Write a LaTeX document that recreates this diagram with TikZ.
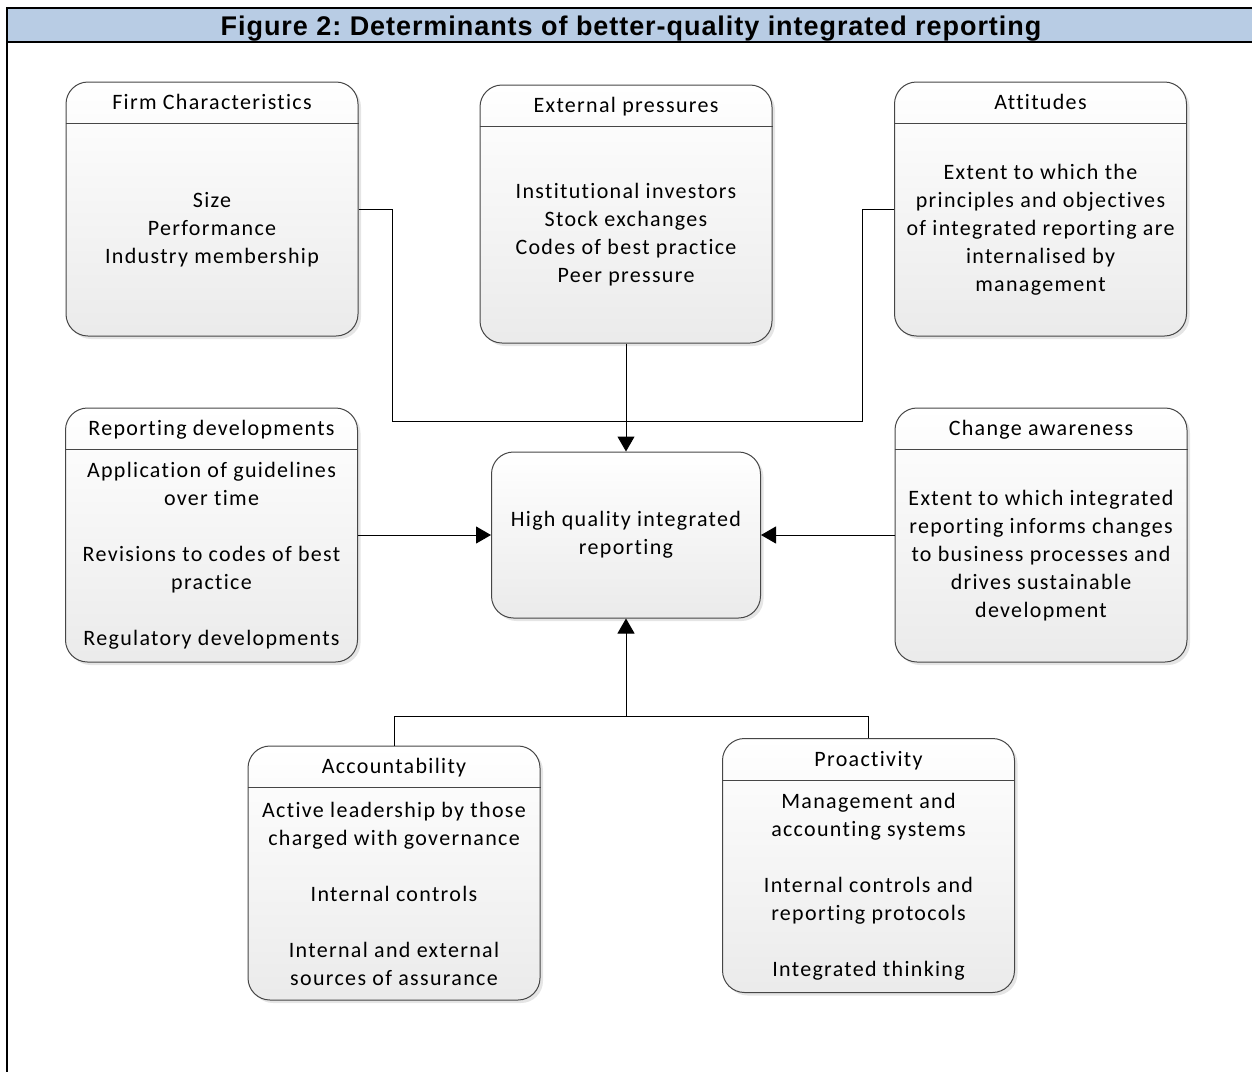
\documentclass[tikz,border=0pt]{standalone}
\usepackage{fontspec}
\setmainfont{Carlito}[LetterSpace=6, Ligatures=NoCommon]
\newfontfamily\headfont{Liberation Sans}[LetterSpace=3.5]
\usetikzlibrary{arrows.meta, shadows}
\definecolor{headblue}{RGB}{184,204,228}
\definecolor{boxline}{RGB}{70,70,70}
\frenchspacing

\begin{document}
\begin{tikzpicture}[x=1pt, y=-1pt,
    box/.style={draw=boxline, line width=1pt, rounded corners=22pt,
      top color=white, bottom color=black!8,
      drop shadow={shadow xshift=3pt, shadow yshift=-3pt, fill=black!20, opacity=0.5},
      minimum width=292pt, minimum height=254pt, inner sep=0pt},
    boxtitle/.style={font=\fontsize{22}{28}\selectfont, text height=14pt, text depth=0pt, inner sep=0pt},
    boxtext/.style={font=\fontsize{22}{28}\selectfont, align=center, inner sep=0pt},
    rule/.style={draw=boxline, line width=1pt},
    link/.style={line width=1pt},
    feed/.style={link, -{Triangle[length=15pt, width=17pt]}}]
  \useasboundingbox (0,0) rectangle (1252,1072);

  % heading band
  \fill[headblue] (7,8) rectangle (1252,42);
  \draw[line width=2.5pt] (1252,8) -- (7,8) -- (7,1072);
  \draw[line width=2.5pt] (7,42) -- (1252,42);
  \node[font=\headfont\bfseries\fontsize{27}{30}\selectfont, anchor=base] (heading)
    at (631,35.5) {Figure 2: Determinants of better-quality integrated reporting};

  \node[box] (firm) at (212,209) {};
  \node[box, minimum height=258pt] (ext) at (626,214) {};
  \node[box] (att) at (1040.5,209) {};
  \node[box] (rep) at (211.5,535) {};
  \node[box] (chg) at (1041,535) {};
  \node[box, boxtext, minimum width=269pt, minimum height=166pt] (high)
    at (626,535) {High quality integrated\\reporting};
  \node[box] (acc) at (394,873) {};
  \node[box] (pro) at (868.5,865.5) {};

  \foreach \b/\t in {firm/Firm Characteristics, ext/External pressures,
      att/Attitudes, rep/Reporting developments, chg/Change awareness,
      acc/Accountability, pro/Proactivity}{
    \draw[rule] ([yshift=-42pt]\b.north west) -- ([yshift=-42pt]\b.north east);
    \node[boxtitle] (\b-title) at ([yshift=-21pt]\b.north) {\t};
  };

  \node[boxtext] (firm-text) at ([yshift=-21pt]firm.center)
    {Size\\Performance\\Industry membership};
  \node[boxtext] (ext-text) at ([yshift=-21pt]ext.center)
    {Institutional investors\\Stock exchanges\\Codes of best practice\\Peer pressure};
  \node[boxtext] (att-text) at ([yshift=-21pt]att.center)
    {Extent to which the\\principles and objectives\\of integrated reporting are\\internalised by\\management};
  \node[boxtext] (rep-text) at ([yshift=-21pt]rep.center)
    {Application of guidelines\\over time\\[28pt]Revisions to codes of best\\practice\\[28pt]Regulatory developments};
  \node[boxtext] (chg-text) at ([yshift=-21pt]chg.center)
    {Extent to which integrated\\reporting informs changes\\to business processes and\\drives sustainable\\development};
  \node[boxtext] (acc-text) at ([yshift=-21pt]acc.center)
    {Active leadership by those\\charged with governance\\[28pt]Internal controls\\[28pt]Internal and external\\sources of assurance};
  \node[boxtext] (pro-text) at ([yshift=-21pt]pro.center)
    {Management and\\accounting systems\\[28pt]Internal controls and\\reporting protocols\\[28pt]Integrated thinking};

  \coordinate (lbend) at (392,421);
  \coordinate (rbend) at (862,421);
  \coordinate (bjoin) at (626,716);
  \draw[link] (firm.east) -| (lbend) -- (rbend) |- (att.west);
  \draw[feed] (ext.south) -- (high.north);
  \draw[feed] (rep.east) -- (high.west);
  \draw[feed] (chg.west) -- (high.east);
  \draw[link] (acc.north) |- (bjoin) -| (pro.north);
  \draw[feed] (bjoin) -- (high.south);
\end{tikzpicture}
\end{document}
